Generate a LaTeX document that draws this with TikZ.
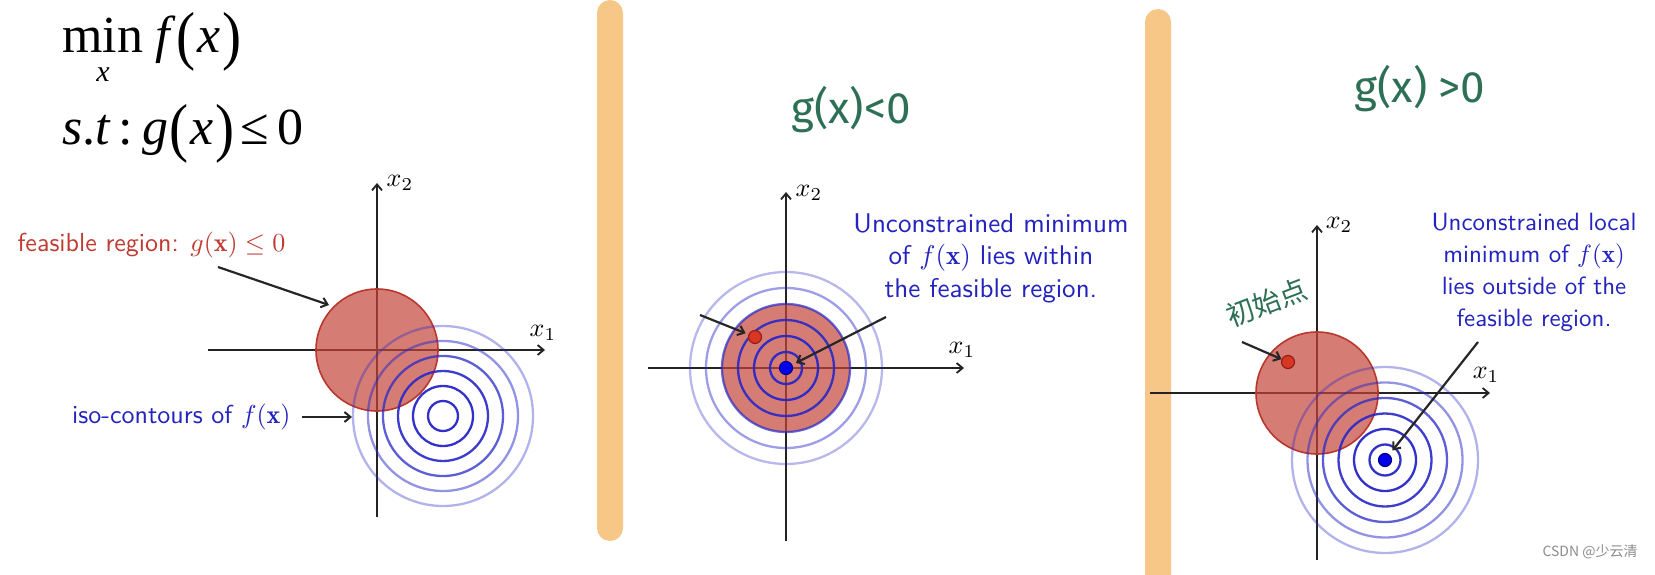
\documentclass[tikz,border=0pt]{standalone}
\usepackage{fontspec}
\usetikzlibrary{arrows.meta}
\newfontfamily\timesf{Liberation Serif}
\newfontfamily\handf{Fira Sans}
\newfontfamily\cjkf{Noto Sans CJK SC}
\definecolor{barcol}{RGB}{246,199,134}
\definecolor{diskcol}{RGB}{196,69,58}
\definecolor{diskedge}{RGB}{185,55,45}
\definecolor{contcol}{RGB}{40,40,200}
\definecolor{annred}{RGB}{190,60,50}
\definecolor{annblue}{RGB}{35,35,190}
\definecolor{handcol}{RGB}{45,112,85}
\definecolor{axiscol}{RGB}{35,35,35}
\definecolor{reddot}{RGB}{215,55,35}
\definecolor{reddotedge}{RGB}{150,30,20}
\definecolor{bluedot}{RGB}{0,0,235}
\definecolor{bluedotedge}{RGB}{0,0,140}
\newcommand\bigp[1]{\raisebox{-5pt}{\scalebox{1.1}[1.25]{#1}}}
\tikzset{
  axisline/.style={draw=axiscol, line width=2pt, -{Straight Barb[length=6pt,width=10pt,line width=1.8pt]}},
  annarrow/.style={draw=black!85, line width=2.2pt, -{Straight Barb[length=6pt,width=10pt,line width=2pt]}},
  disk/.style={fill=diskcol, fill opacity=0.7, draw=diskedge, line width=1.6pt},
  ring/.style={draw=contcol, line width=2.3pt},
  lbl/.style={font=\fontsize{10}{12}\selectfont, inner sep=0pt, scale=2.6},
  ann/.style={font=\sffamily\fontsize{10}{12}\selectfont, inner sep=0pt, align=center, scale=2.6},
  hand/.style={font=\handf\fontsize{44}{44}\selectfont, text=handcol, inner sep=0pt},
  bar/.style={fill=barcol, draw=none, rounded corners=13pt},
  rdot/.style={circle, fill=reddot, draw=reddotedge, line width=1.2pt, minimum size=13pt, inner sep=0pt},
  bdot/.style={circle, fill=bluedot, draw=bluedotedge, line width=1.2pt, minimum size=13pt, inner sep=0pt},
  form/.style={font=\timesf\fontsize{52}{54}\selectfont, inner sep=0pt, anchor=base west}
}
\begin{document}
\begin{tikzpicture}[x=1pt,y=-1pt]
\useasboundingbox[fill=white] (0,0) rectangle (1655,575);

% ---------- separators ----------
\fill[bar] (597,0) rectangle (623,541);
\fill[bar] (1145,9) rectangle (1171,620);

% ---------- panel 1 ----------
\node[form] (obj) at (62,53) {min\hspace{12pt}\textit{f}\hspace{1pt}\bigp{(}\hspace{2pt}\textit{x}\hspace{2pt}\bigp{)}};
\node[font=\timesf\itshape\fontsize{30}{30}\selectfont, inner sep=0pt] (objsub) at (103,75) {x};
\node[form] (cons) at (62,145) {\textit{s}.\textit{t}\hspace{8pt}:\hspace{9pt}\textit{g}\hspace{1pt}\bigp{(}\hspace{2pt}\textit{x}\hspace{2pt}\bigp{)}\hspace{6pt}≤\hspace{8pt}0};

\coordinate (o1) at (377,350);
\coordinate (c1) at (443,416);
\coordinate (ax1l) at (208,350);
\coordinate (ax1r) at (545,350);
\coordinate (ay1b) at (377,517);
\coordinate (ay1t) at (377,183);
\draw[axisline] (ax1l) -- (ax1r);
\draw[axisline] (ay1b) -- (ay1t);
\node[lbl] (x2a) at (400,183) {$x_2$};
\node[lbl] (x1a) at (543,333) {$x_1$};
\draw[disk] (o1) circle[radius=61pt];
\foreach \r/\op in {15/0.95,30/0.95,45/0.9,60/0.75,75/0.5,90/0.35}
  \draw[ring, draw opacity=\op] (c1) circle[radius=\r pt];
\node[ann, text=annred, anchor=west] (feas) at (17,245) {feasible region: $g(\mathbf{x})\le 0$};
\coordinate (feasS) at (218,267);
\coordinate (feasT) at (329,305);
\draw[annarrow] (feasS) -- (feasT);
\node[ann, text=annblue, anchor=east] (iso) at (291,417) {iso-contours of $f(\mathbf{x})$};
\coordinate (isoS) at (302,417);
\coordinate (isoT) at (352,417);
\draw[annarrow] (isoS) -- (isoT);

% ---------- panel 2 ----------
\node[hand] (g2) at (851,110) {g(x)<0};
\coordinate (o2) at (786,368);
\coordinate (ax2l) at (648,368);
\coordinate (ax2r) at (964,368);
\coordinate (ay2b) at (786,541);
\coordinate (ay2t) at (786,192);
\draw[axisline] (ax2l) -- (ax2r);
\draw[axisline] (ay2b) -- (ay2t);
\node[lbl] (x2b) at (809,193) {$x_2$};
\node[lbl] (x1b) at (962,350) {$x_1$};
\draw[disk, draw=none] (o2) circle[radius=64pt];
\foreach \r/\op in {16/0.95,32/0.95,48/0.9,64/0.7,80/0.45,96/0.33}
  \draw[ring, draw opacity=\op] (o2) circle[radius=\r pt];
\node[bdot] (bd2) at (o2) {};
\node[rdot] (rd2) at (755,337) {};
\node[ann, text=annblue, scale=1.04] (t2) at (991,258) {Unconstrained minimum\\of $f(\mathbf{x})$ lies within\\the feasible region.};
\coordinate (a2s) at (700,315);
\draw[annarrow, shorten >=3pt] (a2s) -- (rd2);
\coordinate (b2s) at (886,317);
\draw[annarrow, shorten >=4pt] (b2s) -- (bd2);

% ---------- panel 3 ----------
\node[hand] (g3) at (1420,89) {g(x) >0};
\coordinate (o3) at (1317,393);
\coordinate (c3) at (1385,460);
\coordinate (ax3l) at (1150,393);
\coordinate (ax3r) at (1490,393);
\coordinate (ay3b) at (1317,560);
\coordinate (ay3t) at (1317,225);
\draw[axisline] (ax3l) -- (ax3r);
\draw[axisline] (ay3b) -- (ay3t);
\node[lbl] (x2c) at (1339,225) {$x_2$};
\node[lbl] (x1c) at (1486,375) {$x_1$};
\draw[disk] (o3) circle[radius=61pt];
\foreach \r/\op in {15.5/0.95,31/0.95,46.5/0.9,62/0.75,77.5/0.5,93/0.35}
  \draw[ring, draw opacity=\op] (c3) circle[radius=\r pt];
\node[bdot] (bd3) at (c3) {};
\node[rdot] (rd3) at (1288,362) {};
\node[ann, text=annblue, font=\sffamily\fontsize{10}{12.8}\selectfont, scale=0.96] (t3) at (1534,272) {Unconstrained local\\minimum of $f(\mathbf{x})$\\lies outside of the\\feasible region.};
\coordinate (a3s) at (1242,342);
\draw[annarrow] (a3s) -- (rd3);
\coordinate (b3s) at (1478,342);
\draw[annarrow, shorten >=5pt] (b3s) -- (bd3);
\node[font=\cjkf\fontsize{28}{28}\selectfont, text=handcol, rotate=21, inner sep=0pt] (init) at (1267,303) {初始点};
\node[font=\cjkf\fontsize{14}{14}\selectfont, text=black!45, inner sep=0pt] (wm) at (1590,552) {CSDN @少云清};
\end{tikzpicture}
\end{document}
